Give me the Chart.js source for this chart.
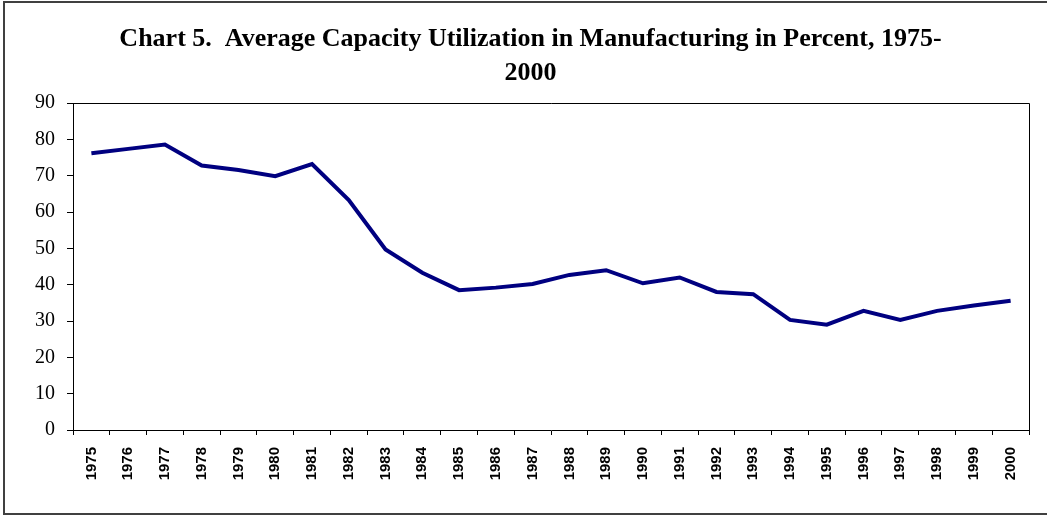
<!DOCTYPE html>
<html>
<head>
<meta charset="utf-8">
<script src="https://cdn.jsdelivr.net/npm/chart.js@4/dist/chart.umd.min.js"></script>
<style>
  html, body { margin: 0; padding: 0; background: #fff; }
  #wrap { position: relative; width: 1047px; height: 517px; }
</style>
</head>
<body>
<div id="wrap"><canvas id="capChart" width="1047" height="517"></canvas></div>
<script>
// Years on the x axis
const years = ['1975', '1976', '1977', '1978', '1979', '1980', '1981', '1982', '1983',
  '1984', '1985', '1986', '1987', '1988', '1989', '1990', '1991', '1992', '1993',
  '1994', '1995', '1996', '1997', '1998', '1999', '2000'];

// Average capacity utilization, percent
const utilization = [76.2, 77.4, 78.6, 72.8, 71.6, 69.9, 73.2, 63.3, 49.7,
  43.3, 38.5, 39.2, 40.2, 42.7, 44.0, 40.4, 42.0, 38.0, 37.4,
  30.3, 29.0, 32.8, 30.3, 32.8, 34.3, 35.6];

// Y axis range and step
const yMin = 0;
const yMax = 90;
const yStep = 10;

const titleLines = ['Chart 5.  Average Capacity Utilization in Manufacturing in Percent, 1975-', '2000'];

/**
 * Outer frame plus top/right edges of the plot area
 */
const framePlugin = {
  id: 'frame',
  afterLayout(chart) {
    // the title sits a little right of the canvas centre in the original
    if (chart.titleBlock) {
      chart.titleBlock.left += 16;
      chart.titleBlock.right += 16;
    }
  },
  beforeDraw(chart) {
    const ctx = chart.ctx;
    ctx.save();
    ctx.fillStyle = '#ffffff';
    ctx.fillRect(0, 0, chart.width, chart.height);
    ctx.strokeStyle = '#404040';
    ctx.lineWidth = 2;
    ctx.strokeRect(4, 2, chart.width + 10, 512);
    ctx.restore();
  },
  afterDatasetsDraw(chart) {
    const { ctx, chartArea } = chart;
    ctx.save();
    ctx.strokeStyle = '#000000';
    ctx.lineWidth = 1;
    ctx.beginPath();
    ctx.moveTo(chartArea.left, Math.round(chartArea.top) + 0.5);
    ctx.lineTo(Math.round(chartArea.right) + 0.5, Math.round(chartArea.top) + 0.5);
    ctx.lineTo(Math.round(chartArea.right) + 0.5, chartArea.bottom);
    ctx.stroke();
    ctx.restore();
  },
};

new Chart(document.getElementById('capChart'), {
  type: 'line',
  data: {
    labels: years,
    datasets: [
      {
        label: 'Capacity utilization',
        data: utilization,
        borderColor: '#000080',
        borderWidth: 4,
        pointRadius: 0,
        tension: 0,
        fill: false,
      },
    ],
  },
  options: {
    responsive: false,
    animation: false,
    layout: { padding: { left: 0, right: 18, top: 0, bottom: 0 } },
    plugins: {
      legend: { display: false },
      tooltip: { enabled: false },
      title: {
        display: true,
        text: titleLines,
        color: '#000000',
        font: { family: '"Liberation Serif", "Times New Roman", serif', size: 26, weight: 'bold', lineHeight: 1.31 },
        padding: { top: 22, bottom: 13 },
      },
    },
    scales: {
      x: {
        type: 'category',
        offset: true,
        grid: { display: true, offset: true, drawOnChartArea: false, drawTicks: true, tickLength: 5, color: '#000000' },
        border: { display: true, color: '#000000', width: 1 },
        ticks: {
          autoSkip: false,
          minRotation: 90,
          maxRotation: 90,
          padding: 12,
          color: '#000000',
          font: { family: '"Liberation Sans", Arial, sans-serif', size: 15, weight: 'bold' },
        },
        afterFit(scale) { scale.height = 87; },
      },
      y: {
        min: yMin,
        max: yMax,
        grid: { display: true, drawOnChartArea: false, drawTicks: true, tickLength: 6, color: '#000000' },
        border: { display: true, color: '#000000', width: 1 },
        ticks: {
          stepSize: yStep,
          padding: 12,
          color: '#000000',
          font: { family: '"Liberation Serif", "Times New Roman", serif', size: 20 },
        },
        afterFit(scale) { scale.width = 73; },
      },
    },
  },
  plugins: [framePlugin],
});
</script>
</body>
</html>
